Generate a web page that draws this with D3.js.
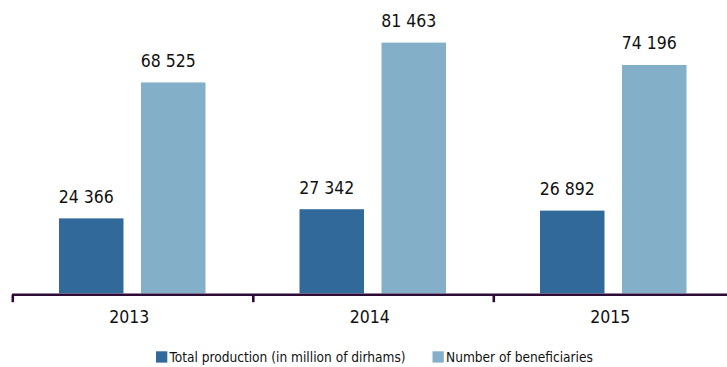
<!DOCTYPE html>
<html><head><meta charset="utf-8">
<script src="https://cdn.jsdelivr.net/npm/d3@7"></script>
<style>
html,body{margin:0;padding:0;background:#fff;}
svg{display:block;}
text{font-family:"DejaVu Sans Condensed","Liberation Sans Narrow",sans-serif;font-stretch:condensed;fill:#111;}
</style></head>
<body>
<svg id="chart" width="727" height="367"></svg>
<script>
const years = ["2013", "2014", "2015"];
const seriesNames = ["Total production (in million of dirhams)", "Number of beneficiaries"];
const production = [24366, 27342, 26892];
const beneficiaries = [68525, 81463, 74196];
const colors = ["#31699b", "#84afc9"];

const svg = d3.select("#chart");
const baseY = 293.4;
const y = d3.scaleLinear().domain([0, 95300]).range([baseY, 0]);
const x0 = d3.scaleBand().domain(years).range([12, 733.5]).padding(0);
const groupW = 146.5;
const x1 = d3.scaleBand().domain([0, 1]).range([0, groupW]).paddingInner(0.2134).paddingOuter(0);
const fmt = v => d3.format(",")(v).replace(/,/g, " ");

const data = years.map((yr, i) => ({year: yr, vals: [production[i], beneficiaries[i]]}));

const g = svg.append("g");
const groups = g.selectAll("g.grp").data(data).enter().append("g")
  .attr("transform", d => `translate(${x0(d.year) + (x0.bandwidth() - groupW) / 2},0)`);

groups.selectAll("rect").data(d => d.vals.map((v, k) => ({v, k}))).enter().append("rect")
  .attr("x", d => x1(d.k))
  .attr("width", x1.bandwidth())
  .attr("y", d => y(d.v))
  .attr("height", d => baseY - y(d.v))
  .attr("fill", d => colors[d.k]);

groups.selectAll("text.val").data(d => d.vals.map((v, k) => ({v, k}))).enter().append("text")
  .attr("class", "val")
  .attr("x", d => x1(d.k) + x1.bandwidth() / 2 - 5)
  .attr("y", d => y(d.v) - 15.5)
  .attr("text-anchor", "middle")
  .attr("font-size", "17.5px")
  .text(d => fmt(d.v));

// axis
const axY = baseY + 1.3;
const axis = d3.axisBottom(x0).tickSize(0);
const ax = svg.append("g").attr("transform", `translate(0,${axY})`).call(axis);
ax.select(".domain").remove();
ax.append("line").attr("x1", 12).attr("x2", 727).attr("y1", 0).attr("y2", 0)
  .attr("stroke", "#2d0b37").attr("stroke-width", 2.6);
ax.selectAll(".tick text").attr("font-size", "17.5px").attr("font-family", null)
  .attr("fill", "#111").attr("dx", -3).attr("dy", 0).attr("y", 322.7 - axY);
// boundary ticks between categories
const bounds = years.map(yv => x0(yv));
ax.selectAll("line.bt").data(bounds).enter().append("line").attr("class", "bt")
  .attr("x1", d => d + 0.8).attr("x2", d => d + 0.8).attr("y1", 0).attr("y2", 7.5)
  .attr("stroke", "#2d0b37").attr("stroke-width", 2.6);

// legend
const legX = [156, 432.5];
const leg = svg.append("g");
seriesNames.forEach((name, k) => {
  leg.append("rect").attr("x", legX[k]).attr("y", 351.3).attr("width", 11.3).attr("height", 11.3).attr("fill", colors[k]);
  leg.append("text").attr("x", legX[k] + 13.5).attr("y", 362.3).attr("font-size", "13.6px").text(name);
});
</script>
</body></html>
